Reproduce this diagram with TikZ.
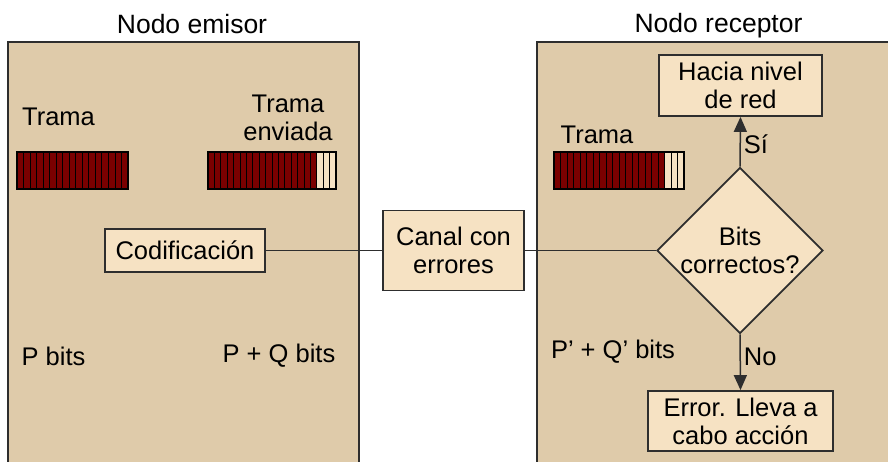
\documentclass[tikz,border=0pt]{standalone}
\usepackage{fontspec}
\setmainfont{Liberation Sans}
\usetikzlibrary{shapes.geometric,arrows.meta}
\definecolor{panelfill}{HTML}{DFCBAA}
\definecolor{boxfill}{HTML}{F6E2C3}
\definecolor{edge}{HTML}{2E2E2E}
\definecolor{bitdark}{HTML}{7A0000}
\tikzset{
  panel/.style={draw=edge, line width=1.5pt, fill=panelfill, inner sep=0pt},
  stepbox/.style={draw=edge, line width=1.8pt, fill=boxfill, inner sep=0pt, align=center, font=\fontsize{25.5}{28}\selectfont},
  lbl/.style={inner sep=0pt, align=center, font=\fontsize{25.5}{28}\selectfont},
  title/.style={inner sep=0pt, font=\fontsize{26.5}{30}\selectfont},
  conn/.style={draw=edge, line width=1.5pt},
  arr/.style={conn, -{Triangle[length=15pt,width=13pt]}},
}
\begin{document}
\begin{tikzpicture}[x=1pt,y=-1pt]
\useasboundingbox (0,0) rectangle (888,461);
\fill[white] (0,0) rectangle (888,461);
\clip (0,0) rectangle (888,461);
% panels
\node[panel, minimum width=351, minimum height=440] (emisor) at (183.5,262) {};
\node[panel, minimum width=360, minimum height=440] (receptor) at (717,262) {};
\node[title] (temisor) at (192,24) {Nodo emisor};
\node[title] (treceptor) at (718.5,26) {Nodo receptor};
% bars
\newcommand{\bitbar}[4]{% x0, cell width, dark count, light count
  \foreach \i in {1,...,#3} {
    \fill[bitdark] ({#1+(\i-1)*#2},152) rectangle ({#1+\i*#2},189);
    \draw[black, line width=0.8pt] ({#1+(\i-1)*#2},152) -- ({#1+(\i-1)*#2},189);
  }
  \ifnum#4>0
  \foreach \i in {1,...,#4} {
    \fill[boxfill] ({#1+(#3+\i-1)*#2},152) rectangle ({#1+(#3+\i)*#2},189);
    \draw[black, line width=1pt] ({#1+(#3+\i-1)*#2},152) -- ({#1+(#3+\i-1)*#2},189);
  }
  \fi
  \draw[black, line width=1.2pt] (#1,152) rectangle ({#1+(#3+#4)*#2},189);
}
\bitbar{17}{6.53}{17}{0}
\bitbar{208}{6.4}{17}{3}
\bitbar{554}{6.5}{17}{3}
% labels
\node[lbl] (trama1) at (58.5,117) {Trama};
\node[lbl] (trama2) at (288,117.5) {Trama\\enviada};
\node[lbl] (trama3) at (597,135) {Trama};
\node[lbl] (pbits) at (53.5,356) {P bits};
\node[lbl] (pqbits) at (279,356) {P + Q bits};
\node[lbl] (pqrbits) at (613,352) {P' + Q' bits};
% process boxes
\node[stepbox, minimum width=160, minimum height=43] (cod) at (185,250.5) {Codificación};
\node[stepbox, minimum width=141, minimum height=80] (canal) at (453.5,250.5) {Canal con\\errores};
\node[stepbox, diamond, aspect=1, minimum size=166] (dec) at (740,250.5) {Bits\\correctos?};
\node[stepbox, minimum width=163, minimum height=61] (hacia) at (740.5,85.5) {Hacia nivel\\de red};
\node[stepbox, minimum width=185, minimum height=60] (error) at (740.5,421) {Error. Lleva a\\cabo acción};
% connectors
\draw[conn] (cod.east) -- (canal.west);
\draw[conn] (canal.east) -- (dec.west);
\draw[arr] (dec.north) -- node[lbl, right=3pt, pos=0.45] (si) {Sí} (hacia.south);
\draw[arr] (dec.south) -- node[lbl, right=3pt, pos=0.4] (no) {No} (error.north);
\end{tikzpicture}
\end{document}
